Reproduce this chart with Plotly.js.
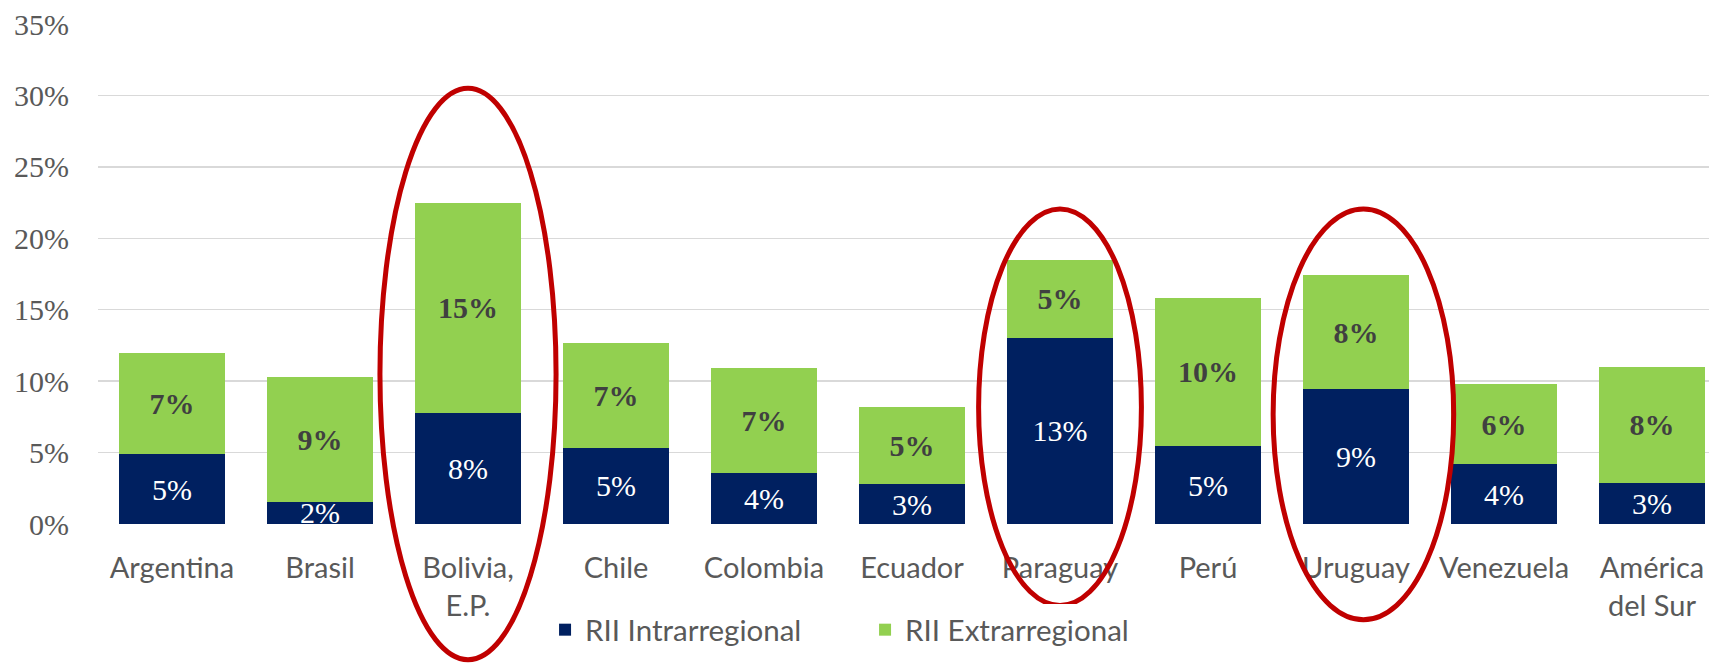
<!DOCTYPE html>
<html>
<head>
<meta charset="utf-8">
<script src="https://cdn.plot.ly/plotly-3.0.1.min.js"></script>
<style>html,body{margin:0;padding:0;background:#fff;}#chart{width:1709px;height:664px;}</style>
</head>
<body>
<div id="chart"></div>
<script>
const categories = ['Argentina','Brasil','Bolivia,<br>E.P.','Chile','Colombia','Ecuador','Paraguay','Perú','Uruguay','Venezuela','América<br>del Sur'];
const intrarregional = [4.9, 1.55, 7.8, 5.35, 3.6, 2.8, 13.05, 5.45, 9.45, 4.2, 2.9];
const extrarregional = [7.1, 8.75, 14.7, 7.3, 7.3, 5.4, 5.45, 10.4, 7.95, 5.6, 8.1];
const seriesNames = ['RII Intrarregional', 'RII Extrarregional'];
const yTicks = [0, 5, 10, 15, 20, 25, 30, 35];

const serif = 'Liberation Serif, Times New Roman, serif';
const sans = 'Lato, Carlito, sans-serif';

const xRange = [-0.5, 10.385];
const yRange = [0, 35];

const traces = [
  {
    type: 'bar', name: seriesNames[0], x: categories, y: intrarregional,
    marker: {color: '#002060', line: {width: 0}},
    texttemplate: '%{y:.0f}%', textposition: 'inside', insidetextanchor: 'middle',
    constraintext: 'none', cliponaxis: false,
    textfont: {family: serif, size: 30, color: '#ffffff'},
    hoverinfo: 'skip'
  },
  {
    type: 'bar', name: seriesNames[1], x: categories, y: extrarregional,
    marker: {color: '#92D050', line: {width: 0}},
    texttemplate: '%{y:.0f}%', textposition: 'inside', insidetextanchor: 'middle',
    constraintext: 'none', cliponaxis: false,
    textfont: {family: serif, size: 30, color: '#404040', weight: 'bold'},
    hoverinfo: 'skip'
  }
];

// highlight ellipses (annotation shapes), given in category index / percent units,
// converted to axis-domain fractions so they are not clipped by the plot area
const toDx = v => (v - xRange[0]) / (xRange[1] - xRange[0]);
const toDy = v => (v - yRange[0]) / (yRange[1] - yRange[0]);
const ell = (x0, x1, y0, y1) => ({
  type: 'circle', xref: 'x domain', yref: 'y domain',
  x0: toDx(x0), x1: toDx(x1), y0: toDy(y0), y1: toDy(y1),
  line: {color: '#C00000', width: 5}, fillcolor: 'rgba(0,0,0,0)', layer: 'above'
});

const layout = {
  width: 1709, height: 664,
  margin: {l: 98, r: 0, t: 24, b: 140},
  paper_bgcolor: '#ffffff', plot_bgcolor: '#ffffff',
  barmode: 'stack', bargap: 0.284,
  showlegend: true,
  legend: {
    orientation: 'h', x: 0.2775, xanchor: 'left', y: -0.212, yanchor: 'middle',
    font: {family: sans, size: 29.5, color: '#595959'},
    entrywidth: 275, entrywidthmode: 'pixels', traceorder: 'normal'
  },
  xaxis: {
    type: 'category', range: xRange, fixedrange: true,
    showgrid: false, zeroline: false, showline: false,
    ticks: 'outside', ticklen: 18, tickcolor: 'rgba(0,0,0,0)',
    tickfont: {family: sans, size: 29, color: '#595959'}
  },
  yaxis: {
    range: yRange, tickvals: yTicks, ticktext: yTicks.map(v => v + '%'),
    showgrid: true, gridcolor: '#D9D9D9', gridwidth: 1.5,
    zeroline: false, showline: false,
    ticks: 'outside', ticklen: 22, tickcolor: 'rgba(0,0,0,0)',
    tickfont: {family: serif, size: 30, color: '#595959'}
  },
  shapes: [
    ell(1.405, 2.595, -9.5, 30.5),
    ell(5.45, 6.55, -5.7, 22.05),
    ell(7.44, 8.66, -6.7, 22.05)
  ]
};

Plotly.newPlot('chart', traces, layout, {staticPlot: true, displayModeBar: false});
</script>
</body>
</html>
